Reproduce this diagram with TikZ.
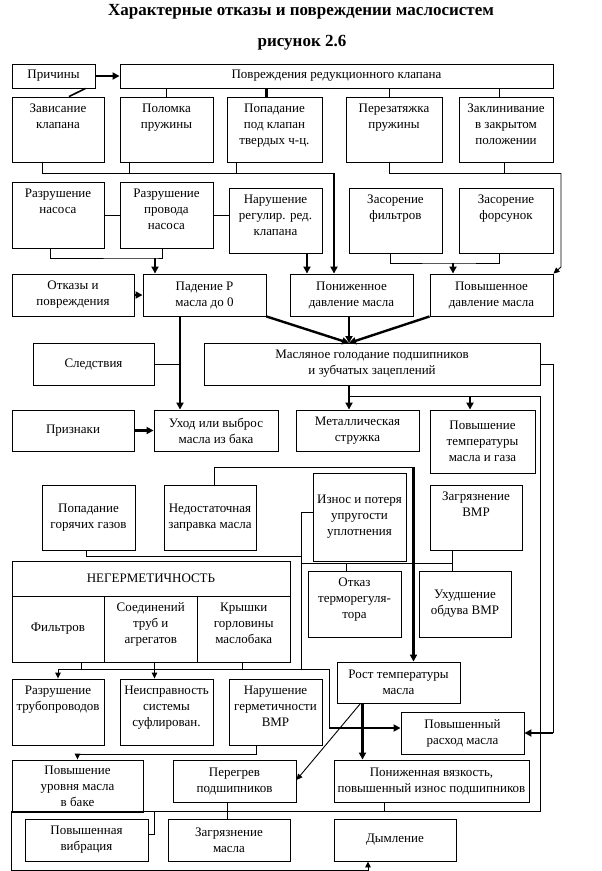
\documentclass[tikz,border=0pt]{standalone}
\usepackage{fontspec}
\setmainfont{Liberation Serif}
\usetikzlibrary{arrows.meta,positioning}

\begin{document}
\begin{tikzpicture}[x=1pt,y=1pt,
			box node/.style={draw,line width=0.9pt,inner sep=1pt,align=center,font=\fontsize{13}{16}\selectfont},
			inner text/.style={inner sep=1pt,align=center,font=\fontsize{13}{16}\selectfont},
			title node/.style={inner sep=0pt,font=\fontsize{17}{20}\selectfont\bfseries},
			link/.style={line width=0.9pt},
			thin arrow/.style={link,-{Triangle[length=6pt,width=5.5pt]}},
			thick line/.style={line width=2.4pt},
			thick arrow/.style={thick line,-{Triangle[length=7pt,width=7pt]}}
			]

			\useasboundingbox (0,0) rectangle (602,-871);

			% box with centred text: name, left, top, right, bottom, text
			\def\blk#1#2#3#4#5#6{\node[box node,minimum width=#4pt-#2pt,minimum height=#5pt-#3pt] (#1) at ({(#2+#4)/2},{-(#3+#5)/2}) {#6};}
			% box with text at the top
			\def\blkt#1#2#3#4#5#6{\node[box node,minimum width=#4pt-#2pt,minimum height=#5pt-#3pt] (#1) at ({(#2+#4)/2},{-(#3+#5)/2}) {};
				\node[inner text,below=6pt of #1.north] (#1-t) {#6};}

			\node[title node] (title) at (301,-12) {Характерные отказы и повреждении маслосистем};
			\node[title node] (fig) at (302,-43) {рисунок 2.6};

			% causes
			\blk{prich}{12}{64}{95}{88}{Причины}
			\blk{povr}{120}{64}{553}{88}{Повреждения редукционного клапана}
			\blkt{zav}{12}{97}{104}{162}{Зависание\\клапана}
			\blkt{polom}{120}{97}{213}{162}{Поломка\\пружины}
			\blkt{popad}{227}{97}{322}{162}{Попадание\\под клапан\\твердых ч-ц.}
			\blkt{perez}{346}{97}{442}{162}{Перезатяжка\\пружины}
			\blkt{zakl}{459}{97}{553}{162}{Заклинивание\\в закрытом\\положении}
			\blkt{razn}{12}{182}{104}{248}{Разрушение\\насоса}
			\blkt{razp}{120}{182}{213}{248}{Разрушение\\провода\\насоса}
			\blkt{narreg}{229}{188}{322}{253}{Нарушение\\регулир. ред.\\клапана}
			\blkt{zf}{349}{188}{442}{253}{Засорение\\фильтров}
			\blkt{zfor}{459}{188}{553}{253}{Засорение\\форсунок}

			% failures
			\blk{otk}{12}{274}{134}{316}{Отказы и\\повреждения}
			\blk{paden}{143}{274}{266}{316}{Падение Р\\масла до 0}
			\blk{ponizh}{290}{274}{413}{316}{Пониженное\\давление масла}
			\blk{povysh}{430}{274}{553}{316}{Повышенное\\давление масла}

			% consequences and signs
			\blk{sled}{33}{343}{154}{385}{Следствия}
			\blk{masl}{204}{343}{540}{385}{Масляное голодание подшипников\\и зубчатых зацеплений}
			\blk{priz}{12}{410}{134}{451}{Признаки}
			\blk{uhod}{154}{410}{278}{451}{Уход или выброс\\масла из бака}
			\blk{metal}{296}{410}{419}{451}{Металлическая\\стружка}
			\blk{povt}{430}{410}{535}{473}{Повышение\\температуры\\масла и газа}
			\blk{popg}{42}{485}{135}{550}{Попадание\\горячих газов}
			\blk{nedost}{164}{485}{256}{550}{Недостаточная\\заправка масла}
			\blk{iznos}{313}{473}{406}{561}{Износ и потеря\\упругости\\уплотнения}
			\blkt{zvmr}{430}{485}{522}{550}{Загрязнение\\ВМР}
			\blk{negerm}{12}{561}{290}{596}{НЕГЕРМЕТИЧНОСТЬ}
			\blk{nfil}{12}{596}{104}{662}{Фильтров}
			\blkt{nsoed}{104}{596}{197.5}{662}{Соединений\\труб и\\агрегатов}
			\blkt{nkr}{197.5}{596}{290}{662}{Крышки\\горловины\\маслобака}
			\blkt{otkt}{308}{571}{401}{637}{Отказ\\терморегуля-\\тора}
			\blk{uhud}{419}{571}{511}{637}{Ухудшение\\обдува ВМР}
			\blk{rost}{337}{662}{460}{703}{Рост температуры\\масла}
			\blkt{razrtr}{12}{679}{104}{745}{Разрушение\\трубопроводов}
			\blkt{neispr}{120}{679}{213}{745}{Неисправность\\системы\\суфлирован.}
			\blkt{narg}{229}{679}{322}{745}{Нарушение\\герметичности\\ВМР}
			\blk{rashod}{401}{712}{524}{754}{Повышенный\\расход масла}
			\blk{povur}{12}{760}{143}{812}{Повышение\\уровня масла\\в баке}
			\blk{pereg}{173}{760}{296}{802}{Перегрев\\подшипников}
			\blk{ponv}{334}{760}{529}{802}{Пониженная вязкость,\\повышенный износ подшипников}
			\blk{vibr}{25}{819}{148}{861}{Повышенная\\вибрация}
			\blk{zagrm}{168}{819}{290}{861}{Загрязнение\\масла}
			\blk{dym}{334}{819}{456}{861}{Дымление}

			% junctions
			\coordinate (b1) at (334,-173);
			\coordinate (b2) at (561,-173);
			\coordinate (b3) at (155,-258);
			\coordinate (b4) at (453,-263);
			\coordinate (mt) at (349,-343);
			\coordinate (j1) at (349,-396);
			\coordinate (j2) at (413.5,-467);
			\coordinate (v1) at (301,-512);
			\coordinate (v2) at (301,-556);
			\coordinate (b5) at (301,-563);
			\coordinate (b6) at (329,-669);
			\coordinate (b9) at (329,-728);
			\coordinate (b7) at (540,-811);

			% causes -> failures
			\draw[thick arrow] (prich) -- (povr);
			\draw[line width=1.6pt] ([xshift=32]prich.south) -- ([xshift=11]zav.north);
			\foreach \n/\s in {polom/0,perez/-5,zakl/-7}
				\draw[link] ([xshift=\s]\n.north) -- ([xshift=\s]\n.north |- povr.south);
			\draw[thick line] ([xshift=-8]popad.north) -- ([xshift=-8]popad.north |- povr.south);

			\draw[link] ([xshift=-16]zav.south) |- (b1);
			\draw[link] ([xshift=-37]polom.south) -- ([xshift=-37]polom.south |- b1);
			\draw[link] ([xshift=-38]popad.south) -- ([xshift=-38]popad.south |- b1);
			\draw[thick arrow] (b1) -- (b1 |- ponizh.north);

			\draw[link] ([xshift=-5]perez.south) |- (b2);
			\draw[link] ([xshift=-2]zakl.south) -- ([xshift=-2]zakl.south |- b2);
			\draw[thin arrow] (b2) -- ++(0,-94) -- (povysh.north east);

			\draw[link] (razn) -- (razp);
			\draw[link] (razp.east) -- (razp.east -| narreg.west);
			\draw[link] ([xshift=-8]razn.south) |- (b3) -| ([xshift=-4]razp.south);
			\draw[thick arrow] (b3) -- (b3 |- paden.north);
			\draw[thick arrow] ([xshift=31.5]narreg.south) -- ([xshift=31.5]narreg.south |- ponizh.north);
			\draw[link] ([xshift=-5]zf.south) |- (b4) -| ([xshift=-7]zfor.south);
			\draw[thick arrow] (b4) -- (b4 |- povysh.north);

			% failures -> consequences
			\draw[thick arrow] (otk) -- (paden);
			\draw[thick arrow] (paden.south east) -- (mt);
			\draw[thick arrow] (mt |- ponizh.south) -- (mt);
			\draw[thick arrow] (povysh.south west) -- (mt);
			\draw[thick arrow] ([xshift=-24.5]paden.south) -- ([xshift=-24.5]paden.south |- uhod.north);
			\draw[link] (sled.east) -- ([xshift=-24.5]paden.south |- sled.east);
			\draw[thick arrow] (priz) -- (uhod);

			\draw[thick arrow] (mt |- masl.south) -- (mt |- metal.north);
			\draw[thin arrow] (j1) -| (b7) -- (b7 -| povur.west) -- ++(0,-59) -| ([xshift=-27]dym.south);
			\draw[thick arrow] ([xshift=-12.5]povt.north |- j1) -- ([xshift=-12.5]povt.north);
			\draw[link] (masl.east) -- ++(13,0) coordinate (rv) -- (rv |- rashod.east);
			\draw[thick arrow] (rv |- rashod.east) -- (rashod.east);

			% lower part
			\draw[link] ([xshift=4]nedost.north) |- (j2);
			\draw[thick arrow] (j2) -- (j2 |- rost.north);
			\draw[link] ([xshift=-2.5]popg.south) |- (v2);
			\draw[link] ([yshift=5]iznos.west) -- (v1) -- (v1 |- b6);
			\draw[link] (b5) -- ([xshift=-23.5]zvmr.south |- b5);
			\draw[link] ([xshift=-23.5]zvmr.south) -- ([xshift=-23.5]zvmr.south |- uhud.north);
			\draw[link] ([xshift=-8.5]otkt.north) -- ([xshift=-8.5]otkt.north |- b5);

			\foreach \n/\s in {nfil/23,nsoed/4,nkr/-1}
				\draw[link] ([xshift=\s]\n.south) -- ([xshift=\s]\n.south |- b6);
			\draw[thin arrow] (b6) -| (razrtr.north);
			\draw[thin arrow] ([xshift=-12]neispr.north |- b6) -- ([xshift=-12]neispr.north);
			\draw[link] (b6) -- (b9);
			\draw[thick arrow] (b9) -- (b9 -| rashod.west);

			\draw[thick arrow] ([xshift=-36]rost.south) -- ([xshift=-36]rost.south |- ponv.north);
			\draw[thin arrow] ([xshift=-38]rost.south) -- ([yshift=1]pereg.east);
			\draw[thin arrow] ([xshift=-19.5]narg.south) -- ++(0,-9) -| (povur.north);
			\draw[link] ([xshift=-7]pereg.south) -- ([xshift=-7]pereg.south |- zagrm.north);
			\draw[link] ([xshift=-47]ponv.south) -- ([xshift=-47]ponv.south |- b7);
			\draw[link] ([yshift=6]vibr.east) -| ([xshift=6]vibr.east |- b7);
		\end{tikzpicture}
\end{document}
